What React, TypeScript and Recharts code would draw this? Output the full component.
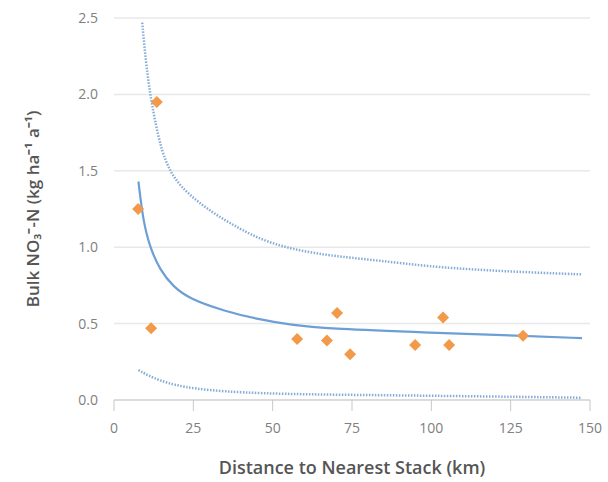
import React from "react";
import {
  ComposedChart,
  Line,
  Scatter,
  XAxis,
  YAxis,
  CartesianGrid,
} from "recharts";

// fitted curve (solid)
const midX = [7.7, 9.2, 11.3, 14.5, 18.7, 24, 34.5, 45, 55.5, 69, 100, 128, 147.5];
const midY = [1.43, 1.17, 1.0, 0.85, 0.74, 0.66, 0.584, 0.53, 0.492, 0.464, 0.441, 0.42, 0.405];

// upper bound (dotted)
const upperX = [8.9, 10, 11.3, 12.9, 15, 17.6, 20.8, 27.1, 33.4, 39.7, 46, 52.3, 58.6, 64.9, 71.2, 83.8, 99.6, 115.4, 131.1, 147.5];
const upperY = [2.47, 2.22, 2.01, 1.83, 1.63, 1.5, 1.4, 1.284, 1.196, 1.12, 1.054, 1.01, 0.978, 0.956, 0.938, 0.912, 0.873, 0.851, 0.835, 0.822];

// lower bound (dotted)
const lowerX = [7.7, 14, 24.5, 45.5, 77, 108, 147.5];
const lowerY = [0.195, 0.125, 0.07, 0.041, 0.033, 0.026, 0.015];

// measured sites
const siteX = [7.6, 13.5, 11.7, 57.7, 67.1, 70.3, 74.4, 94.9, 103.7, 105.6, 128.9];
const siteY = [1.25, 1.95, 0.47, 0.4, 0.39, 0.57, 0.3, 0.36, 0.54, 0.36, 0.42];

const xTicks = [0, 25, 50, 75, 100, 125, 150];
const yTicks = [0, 0.5, 1, 1.5, 2, 2.5];

const toPts = (xs: number[], ys: number[]) => xs.map((x, i) => ({ x, y: ys[i] }));

const midData = toPts(midX, midY);
const upperData = toPts(upperX, upperY);
const lowerData = toPts(lowerX, lowerY);
const siteData = toPts(siteX, siteY);

const FONT = "'Open Sans', sans-serif";
const LINE_BLUE = "#6c9fd6";
const DOT_BLUE = "#86acd9";
const ORANGE = "#f2994a";

const Diamond = (props: any) => {
  const { cx, cy } = props;
  if (cx == null || cy == null) return null;
  const r = 6;
  return (
    <polygon
      points={`${cx},${cy - r} ${cx + r},${cy} ${cx},${cy + r} ${cx - r},${cy}`}
      fill={ORANGE}
    />
  );
};

export default function App() {
  return (
    <div style={{ position: "absolute", left: 0, top: 0, background: "#fff" }}>
      <ComposedChart
        width={608}
        height={482}
        margin={{ top: 18, right: 18, bottom: 0, left: 0 }}
        style={{ fontFamily: FONT }}
      >
        <CartesianGrid vertical={false} stroke="#e8e8e8" strokeWidth={1.5} />
        <XAxis
          type="number"
          dataKey="x"
          domain={[0, 150]}
          ticks={xTicks}
          height={82}
          stroke="#c9c9c9"
          tickSize={11}
          tickMargin={12}
          tick={{ fill: "#808080", fontSize: 14 }}
          label={{
            value: "Distance to Nearest Stack (km)",
            position: "insideBottom",
            offset: 8,
            fill: "#555",
            fontSize: 18,
            fontWeight: 600,
          }}
        />
        <YAxis
          type="number"
          dataKey="y"
          domain={[0, 2.5]}
          ticks={yTicks}
          width={114}
          axisLine={false}
          tickLine={false}
          tickSize={8}
          tickMargin={8}
          tickFormatter={(v: number) => v.toFixed(1)}
          tick={{ fill: "#808080", fontSize: 14 }}
          label={{
            value: "Bulk NO₃⁻-N (kg ha⁻¹ a⁻¹)",
            angle: -90,
            position: "insideLeft",
            offset: 33,
            fill: "#555",
            fontSize: 17,
            fontWeight: 600,
            style: { textAnchor: "middle" },
          }}
        />
        <Line
          data={upperData}
          dataKey="y"
          type="basis"
          stroke={DOT_BLUE}
          strokeWidth={2.5}
          strokeDasharray="1.5 1.5"
          dot={false}
          isAnimationActive={false}
        />
        <Line
          data={lowerData}
          dataKey="y"
          type="basis"
          stroke={DOT_BLUE}
          strokeWidth={2.5}
          strokeDasharray="1.5 1.5"
          dot={false}
          isAnimationActive={false}
        />
        <Line
          data={midData}
          dataKey="y"
          type="basis"
          stroke={LINE_BLUE}
          strokeWidth={2.2}
          dot={false}
          isAnimationActive={false}
        />
        <Scatter data={siteData} dataKey="y" shape={<Diamond />} isAnimationActive={false} />
      </ComposedChart>
    </div>
  );
}
